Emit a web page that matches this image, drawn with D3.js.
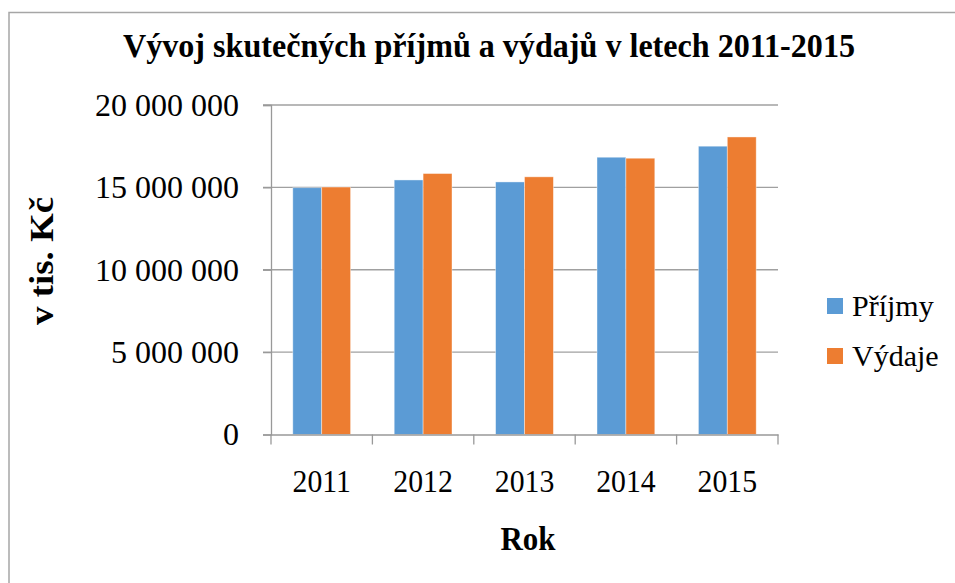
<!DOCTYPE html>
<html><head><meta charset="utf-8">
<script src="https://cdn.jsdelivr.net/npm/d3@7"></script>
<style>body{margin:0;background:#fff}svg{display:block}svg text{font-family:"Liberation Serif","Times New Roman",serif}</style>
</head><body>
<script>
const categories = ["2011","2012","2013","2014","2015"];
const prijmy = [14980000, 15450000, 15330000, 16830000, 17500000];
const vydaje = [15020000, 15840000, 15640000, 16770000, 18060000];
const seriesNames = ["Příjmy","Výdaje"];
const colors = ["#5B9BD5","#ED7D31"];
const yTicks = [0, 5000000, 10000000, 15000000, 20000000];
const title = "Vývoj skutečných příjmů a výdajů v letech 2011-2015";

const W = 955, H = 583;
const svg = d3.select("body").append("svg").attr("width", W).attr("height", H);
const serif = "'Liberation Serif','Times New Roman',serif";

// frame
svg.append("path").attr("d", `M9,${H} L9,12.5 L${W},12.5`).attr("fill","none").attr("stroke","#a6a6a6").attr("stroke-width",1.5);

const x = d3.scaleBand().domain(categories).range([271, 778]).paddingInner(0.43).paddingOuter(0.215);
const xs = d3.scaleBand().domain(seriesNames).range([0, x.bandwidth()]);
const y = d3.scaleLinear().domain([0, 20000000]).range([434.5, 105]);

const fmt = v => d3.format(",")(v).replace(/,/g, "\u00a0");

// gridlines
svg.append("g").selectAll("line").data(yTicks.filter(d => d > 0)).join("line")
  .attr("x1", 263).attr("x2", 778).attr("y1", d => y(d)).attr("y2", d => y(d))
  .attr("stroke", "#a0a0a0").attr("stroke-width", 1.3);

// y axis
const yAxis = svg.append("g").attr("transform","translate(271,0)")
  .call(d3.axisLeft(y).tickValues(yTicks).tickFormat(fmt).tickSize(8).tickPadding(24));
yAxis.attr("font-family", null).attr("font-size", null);
yAxis.select(".domain").attr("stroke","#999").attr("stroke-width",1.3);
yAxis.selectAll(".tick line").attr("stroke","#999").attr("stroke-width",1.3);
yAxis.selectAll("text").style("font-family", serif).style("font-size", "32px").attr("fill","#000");

// bars
const groups = svg.append("g").selectAll("g").data(categories).join("g")
  .attr("transform", d => `translate(${x(d)},0)`);
groups.selectAll("rect").data((d,i) => [
  {s: seriesNames[0], v: prijmy[i], c: colors[0]},
  {s: seriesNames[1], v: vydaje[i], c: colors[1]}
]).join("rect")
  .attr("x", d => xs(d.s)).attr("width", xs.bandwidth())
  .attr("y", d => y(d.v)).attr("height", d => y(0) - y(d.v))
  .attr("fill", d => d.c).attr("stroke", "#fff").attr("stroke-opacity", 0.5).attr("stroke-width", 0.8);

// x axis
const xAxisScale = d3.scaleBand().domain(categories).range([271, 778]);
const xAxis = svg.append("g").attr("transform", `translate(0,${y(0)})`)
  .call(d3.axisBottom(xAxisScale).tickSize(0).tickPadding(35));
xAxis.attr("font-family", null).attr("font-size", null);
xAxis.select(".domain").attr("stroke","#999").attr("stroke-width",1.3);
xAxis.selectAll("text").style("font-family", serif).style("font-size", "32px").attr("fill","#000")
  .each(function(){ const l = this.getComputedTextLength(); d3.select(this).attr("textLength", l*0.93).attr("lengthAdjust","spacingAndGlyphs"); });
// category boundary ticks
svg.append("g").selectAll("line").data(d3.range(categories.length + 1)).join("line")
  .attr("x1", i => 271 + i * xAxisScale.step()).attr("x2", i => 271 + i * xAxisScale.step())
  .attr("y1", y(0)).attr("y2", y(0) + 10).attr("stroke","#999").attr("stroke-width",1.3);

// title
svg.append("text").attr("x", 489).attr("y", 57).attr("text-anchor","middle")
  .style("font-family", serif).style("font-weight","bold").style("font-size", "34px")
  .attr("textLength", 732).attr("lengthAdjust","spacingAndGlyphs").text(title);

// axis titles
svg.append("text").attr("transform","translate(53,261) rotate(-90)").attr("text-anchor","middle")
  .style("font-family", serif).style("font-weight","bold").style("font-size", "34px")
  .attr("textLength", 128).attr("lengthAdjust","spacingAndGlyphs").text("v tis. Kč");
svg.append("text").attr("x", 528).attr("y", 550).attr("text-anchor","middle")
  .style("font-family", serif).style("font-weight","bold").style("font-size", "33px")
  .attr("textLength", 55).attr("lengthAdjust","spacingAndGlyphs").text("Rok");

// legend
const leg = svg.append("g").selectAll("g").data(seriesNames).join("g")
  .attr("transform", (d,i) => `translate(827,${298 + i * 50})`);
leg.append("rect").attr("width", 16).attr("height", 16).attr("fill", (d,i) => colors[i]);
leg.append("text").attr("x", 25).attr("y", 18).style("font-family", serif).style("font-size", "30px").text(d => d);
</script>
</body></html>
